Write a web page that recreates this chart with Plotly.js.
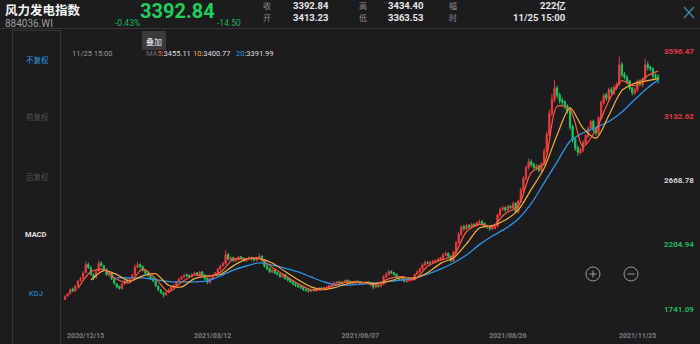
<!DOCTYPE html>
<html><head><meta charset="utf-8">
<script src="https://cdn.plot.ly/plotly-3.0.1.min.js"></script>
<style>html,body{margin:0;padding:0;background:#1c1c1e;}#chart{width:700px;height:344px;}</style>
</head><body><div id="chart"></div>
<script>
// ---------------- data ----------------
const xTickIdx = [0, 57, 114, 171, 229];
const xTickText = ['2020/12/15', '2021/03/12', '2021/06/07', '2021/08/26', '2021/11/25'];
const yTickVals = [1741.09, 2204.94, 2668.78, 3132.62, 3596.47];
const yTickText = ['1741.09', '2204.94', '2668.78', '3132.62', '3596.47'];

const open = [1812,1835,1852,1885,1872,1908,1945,1962,2005,2062,
2038,1988,1968,2015,2072,2052,2028,1985,2002,1958,
1922,1905,1888,1922,1948,1938,1962,1988,2042,2062,
2048,2018,2002,1983,1962,1942,1905,1878,1858,1842,
1862,1882,1898,1912,1937,1957,1972,1988,1982,1973,
1992,2002,1988,2008,1987,1962,1932,1958,1987,2002,
2028,2052,2068,2135,2095,2112,2088,2098,2118,2108,
2088,2098,2112,2102,2092,2108,2122,2092,2052,2034,
2008,2022,2003,1992,1972,1988,1963,1953,1938,1923,
1912,1903,1897,1883,1878,1868,1883,1873,1883,1893,
1878,1893,1898,1908,1913,1928,1938,1923,1933,1948,
1943,1938,1928,1942,1938,1922,1928,1938,1928,1918,
1898,1913,1903,1918,1972,1988,2013,2003,1992,1972,
1952,1962,1938,1943,1948,1953,1992,2008,2028,2058,
2078,2068,2078,2083,2088,2098,2108,2128,2143,2122,
2088,2148,2218,2278,2335,2318,2345,2328,2352,2342,
2358,2373,2358,2343,2333,2318,2322,2338,2418,2458,
2472,2452,2483,2468,2505,2438,2518,2598,2678,2758,
2805,2785,2755,2775,2738,2788,2878,2995,3148,3245,
3335,3285,3245,3235,3205,3175,3055,2965,2905,2865,
2885,2935,2985,3045,3095,3035,3005,3115,3225,3285,
3255,3325,3295,3335,3358,3505,3435,3412,3385,3335,
3295,3318,3385,3355,3398,3505,3485,3475,3425,3413.23];

const high = [1840,1858,1890,1895,1912,1950,1972,2012,2085,2075,
2050,2000,2020,2090,2085,2060,2035,2015,2010,1965,
1930,1910,1928,1952,1955,1968,1995,2060,2080,2070,
2055,2025,2010,1990,1970,1950,1912,1885,1865,1868,
1890,1910,1920,1945,1965,1982,1995,1998,1990,1998,
2010,2008,2015,2015,1992,1968,1968,1992,2010,2040,
2060,2080,2165,2145,2120,2118,2110,2125,2125,2112,
2108,2120,2118,2108,2118,2140,2128,2098,2058,2040,
2028,2025,2008,1998,1992,1992,1968,1958,1942,1928,
1918,1908,1900,1888,1882,1888,1888,1892,1898,1898,
1902,1908,1918,1922,1938,1942,1942,1942,1952,1955,
1948,1942,1948,1948,1942,1936,1942,1942,1932,1922,
1918,1918,1928,1985,2005,2025,2020,2008,1998,1975,
1968,1965,1952,1956,1962,1998,2018,2040,2070,2090,
2085,2088,2095,2098,2110,2118,2145,2158,2148,2128,
2160,2232,2295,2345,2348,2355,2352,2362,2360,2372,
2385,2380,2362,2348,2340,2335,2348,2430,2475,2485,
2480,2492,2490,2515,2510,2530,2615,2700,2775,2825,
2820,2795,2785,2780,2800,2900,3020,3180,3290,3390,
3350,3300,3265,3245,3215,3195,3070,2980,2920,2905,
2955,3000,3055,3105,3105,3045,3130,3245,3295,3300,
3335,3340,3355,3375,3560,3520,3450,3425,3390,3340,
3335,3395,3395,3410,3545,3525,3495,3480,3440,3434.40];

const low = [1805,1828,1845,1862,1865,1900,1938,1955,1998,2030,
1980,1950,1960,2008,2045,2020,1978,1975,1950,1915,
1890,1880,1882,1915,1930,1930,1955,1980,2035,2035,
2010,1990,1975,1950,1935,1900,1870,1850,1825,1835,
1855,1875,1892,1905,1930,1950,1965,1970,1965,1965,
1985,1980,1982,1978,1950,1920,1925,1950,1980,1995,
2020,2045,2060,2090,2088,2080,2082,2090,2098,2082,
2080,2092,2092,2085,2085,2100,2082,2040,2020,2000,
2000,1992,1982,1965,1965,1952,1940,1928,1912,1900,
1892,1885,1872,1865,1860,1862,1868,1868,1878,1872,
1872,1888,1895,1902,1908,1922,1918,1918,1928,1932,
1928,1922,1922,1928,1918,1915,1922,1918,1908,1885,
1890,1895,1898,1912,1965,1982,1992,1980,1962,1948,
1945,1932,1932,1938,1942,1948,1985,2002,2022,2052,
2060,2060,2072,2078,2082,2090,2100,2122,2112,2078,
2080,2140,2210,2270,2305,2310,2320,2320,2335,2335,
2350,2345,2330,2320,2305,2310,2315,2330,2405,2450,
2440,2445,2460,2460,2430,2430,2505,2585,2665,2745,
2765,2745,2740,2725,2725,2775,2865,2985,3130,3230,
3260,3220,3210,3180,3150,3030,2940,2880,2845,2855,
2870,2920,2975,3030,3015,2990,2995,3105,3210,3240,
3240,3285,3285,3320,3345,3410,3395,3360,3315,3280,
3285,3305,3345,3340,3385,3460,3455,3400,3395,3363.53];

const close = [1830,1850,1880,1870,1905,1940,1960,2000,2060,2040,
1990,1965,2010,2070,2055,2030,1990,2000,1960,1925,
1900,1890,1920,1945,1940,1960,1985,2040,2060,2045,
2020,2000,1985,1960,1945,1910,1880,1860,1845,1860,
1880,1900,1910,1935,1955,1970,1985,1980,1975,1990,
2000,1990,2005,1985,1960,1935,1960,1985,2000,2030,
2050,2070,2130,2100,2110,2090,2100,2115,2105,2090,
2100,2110,2100,2095,2110,2120,2090,2050,2030,2010,
2020,2000,1990,1975,1985,1960,1950,1935,1920,1910,
1900,1895,1880,1875,1870,1880,1875,1885,1890,1880,
1895,1900,1910,1915,1930,1935,1925,1935,1945,1940,
1935,1930,1940,1935,1925,1930,1935,1925,1915,1900,
1910,1905,1920,1975,1990,2010,2000,1990,1970,1955,
1960,1940,1945,1950,1955,1990,2010,2030,2060,2075,
2070,2080,2085,2090,2100,2110,2130,2140,2120,2090,
2150,2220,2280,2330,2320,2340,2330,2350,2345,2360,
2370,2355,2340,2330,2320,2325,2340,2420,2460,2470,
2455,2480,2470,2500,2440,2520,2600,2680,2760,2800,
2780,2760,2770,2740,2790,2880,3000,3150,3250,3330,
3280,3240,3230,3200,3170,3050,2960,2900,2870,2890,
2940,2990,3040,3090,3030,3010,3120,3230,3280,3260,
3320,3300,3340,3360,3500,3430,3410,3380,3330,3300,
3320,3380,3360,3400,3500,3480,3470,3420,3410,3392.84];

// moving-average lines, every 5 sessions
const maIdx = [0,5,10,15,20,25,30,35,40,45,50,55,60,65,70,75,80,85,90,95,100,105,110,115,120,125,130,135,140,145,150,155,160,165,170,175,180,185,190,195,200,205,210,215,220,225,229];
const ma5 = [null,1889,2010,2026,1955,1931,2030,1960,1865,1934,1986,1975,2005,2100,2102,2107,2040,1982,1923,1880,1885,1918,1936,1932,1917,1960,1975,1956,2049,2093,2126,2298,2351,2334,2429,2482,2724,2788,3202,3178,2912,3032,3242,3386,3348,3424,3455.11];
const ma10 = [null,null,1950,2018,1990,1943,1980,1995,1912,1900,1960,1980,1990,2052,2101,2104,2073,2011,1952,1901,1882,1900,1928,1934,1925,1940,1968,1965,2003,2070,2110,2210,2325,2342,2382,2455,2603,2756,2995,3190,3045,2972,3137,3314,3367,3386,3400.77];
const ma20 = [null,null,null,null,1968,1965,1965,1952,1938,1936,1936,1943,1979,2022,2051,2073,2058,2036,2008,1972,1936,1914,1914,1921,1930,1940,1950,1962,1993,2029,2073,2130,2205,2267,2320,2390,2500,2650,2800,2950,3010,3050,3092,3160,3250,3335,3391.99];

// ---------------- styling / layout ----------------
const BG = '#1c1c1e';
const UP = '#ec3a3f', DN = '#1fc45e';
const C5 = '#ff5c3a', C10 = '#f2b23a', C20 = '#2d93e6';
const L = 62, R = 662, T = 30, B = 328;
const PX = x => (x - L) / (R - L);
const PY = y => (B - y) / (B - T);
const VPP = 7.205, REFV = 3596.47, REFY = 51.5;
const yRange = [REFV - (B - REFY) * VPP, REFV + (REFY - T) * VPP];
const xRange = [(L - 65) / 2.59, (R - 65) / 2.59];

const idx = close.map((_, i) => i);
const NUM = 'Roboto, "Noto Sans CJK SC", sans-serif';
const CJK = '"Noto Sans CJK SC", sans-serif';

const traces = [
  {type: 'candlestick', x: idx, open: open, high: high, low: low, close: close,
   increasing: {line: {color: UP, width: 1}, fillcolor: UP},
   decreasing: {line: {color: DN, width: 1}, fillcolor: DN},
   whiskerwidth: 0, hoverinfo: 'skip', showlegend: false},
  {type: 'scatter', mode: 'lines', x: maIdx, y: ma20, line: {color: C20, width: 1.3, shape: 'spline', smoothing: 0.8}, hoverinfo: 'skip', showlegend: false},
  {type: 'scatter', mode: 'lines', x: maIdx, y: ma10, line: {color: C10, width: 1.2, shape: 'spline', smoothing: 0.8}, hoverinfo: 'skip', showlegend: false},
  {type: 'scatter', mode: 'lines', x: maIdx, y: ma5, line: {color: C5, width: 1.2, shape: 'spline', smoothing: 0.8}, hoverinfo: 'skip', showlegend: false}
];

const yColors = ['#20b65a', '#20b65a', '#d4d4d4', '#e5383e', '#e5383e'];
const yTickHtml = yTickText.map((t, i) => '<span style="color:' + yColors[i] + '">' + t + '</span>');

function A(text, x, y, o) {
  o = o || {};
  return {text: text, x: PX(x), y: PY(y), xref: 'paper', yref: 'paper', showarrow: false,
    xanchor: o.xa || 'left', yanchor: 'middle', borderpad: 0,
    font: {size: o.size || 9, color: o.color || '#e6e6e6', family: o.family || NUM, weight: o.weight || 'normal'}};
}

const annotations = [
  A('风力发电指数', 4, 9, {size: 12.5, family: CJK, weight: 'bold', color: '#f2f2f2'}),
  A('884036.WI', 4, 23, {size: 10, color: '#9c9c9c'}),
  A('3392.84', 139, 11, {size: 20, weight: 'bold', color: '#1fd05c'}),
  A('-0.43%', 114, 23, {size: 8.5, color: '#1fb552'}),
  A('-14.50', 216, 23, {size: 8.5, color: '#1fb552'}),
  A('收', 267, 6, {xa: 'center', size: 8, family: CJK, color: '#8c8c8c'}),
  A('开', 267, 17, {xa: 'center', size: 8, family: CJK, color: '#8c8c8c'}),
  A('3392.84', 292, 6, {size: 9.5, weight: 'bold', color: '#e8e8e8'}),
  A('3413.23', 292, 17, {size: 9.5, weight: 'bold', color: '#e8e8e8'}),
  A('高', 363, 6, {xa: 'center', size: 8, family: CJK, color: '#8c8c8c'}),
  A('低', 363, 17, {xa: 'center', size: 8, family: CJK, color: '#8c8c8c'}),
  A('3434.40', 387, 6, {size: 9.5, weight: 'bold', color: '#e8e8e8'}),
  A('3363.53', 387, 17, {size: 9.5, weight: 'bold', color: '#e8e8e8'}),
  A('幅', 453, 6, {xa: 'center', size: 8, family: CJK, color: '#8c8c8c'}),
  A('时', 453, 17, {xa: 'center', size: 8, family: CJK, color: '#8c8c8c'}),
  A('222亿', 567, 6, {xa: 'right', size: 9.5, weight: 'bold', color: '#e8e8e8'}),
  A('11/25 15:00', 567, 17, {xa: 'right', size: 9.5, weight: 'bold', color: '#e8e8e8'}),
  // left panel
  A('不复权', 37, 60, {xa: 'center', size: 7.5, family: CJK, color: '#2a9be0'}),
  A('前复权', 37, 117, {xa: 'center', size: 7.5, family: CJK, color: '#4e4e50'}),
  A('后复权', 37, 176, {xa: 'center', size: 7.5, family: CJK, color: '#4e4e50'}),
  A('MACD', 36, 234, {xa: 'center', size: 7.5, color: '#e0e0e0', weight: 'bold'}),
  A('KDJ', 36, 293, {xa: 'center', size: 7.5, color: '#2a9be0'}),
  // legend row
  A('11/25 15:00', 71, 53, {size: 7.5, color: '#9a9a9a'}),
  A('<span style="color:#6a6a6a">MA</span><span style="color:' + C5 + '">5</span>:3455.11', 145, 53, {size: 7.5, color: '#dedede'}),
  A('<span style="color:' + C10 + '">10</span>:3400.77', 192, 53, {size: 7.5, color: '#dedede'}),
  A('<span style="color:' + C20 + '">20</span>:3391.99', 235, 53, {size: 7.5, color: '#dedede'}),
  A('叠加', 154, 41, {xa: 'center', size: 8, family: CJK, color: '#f0f0f0'}),
  // first / last date labels (clamped to the plot edges)
  {text: xTickText[0], x: xTickIdx[0], y: PY(336), xref: 'x', yref: 'paper', showarrow: false, xanchor: 'left', yanchor: 'middle',
   font: {size: 7, color: '#7d7d7d', family: NUM, weight: 'bold'}},
  {text: xTickText[4], x: xTickIdx[4], y: PY(336), xref: 'x', yref: 'paper', showarrow: false, xanchor: 'right', yanchor: 'middle',
   font: {size: 7, color: '#7d7d7d', family: NUM, weight: 'bold'}}
];

const LINE = '#343436';
function Ln(x0, y0, x1, y1, color, w) {
  return {type: 'line', xref: 'paper', yref: 'paper', x0: PX(x0), y0: PY(y0), x1: PX(x1), y1: PY(y1),
    line: {color: color || LINE, width: w || 1}, layer: 'above'};
}
const shapes = [
  Ln(0, 28.5, 700, 28.5),
  Ln(12.5, 30.5, 12.5, 344),
  Ln(60.5, 30.5, 60.5, 344),
  Ln(12.5, 30.5, 60.5, 30.5),
  // 叠加 button
  {type: 'rect', xref: 'paper', yref: 'paper', x0: PX(142), x1: PX(166), y0: PY(50), y1: PY(31),
   fillcolor: '#3a3a3d', line: {width: 0}, layer: 'above'},
  // close X
  Ln(684, 7, 694, 18, '#3e8ba2', 1.2),
  Ln(684, 18, 694, 7, '#3e8ba2', 1.2),
  // zoom buttons
  {type: 'circle', xref: 'paper', yref: 'paper', x0: PX(586), x1: PX(600), y0: PY(281), y1: PY(267),
   line: {color: '#9c9c9c', width: 1}, layer: 'above'},
  Ln(589.5, 274, 596.5, 274, '#9c9c9c', 1),
  Ln(593, 270.5, 593, 277.5, '#9c9c9c', 1),
  {type: 'circle', xref: 'paper', yref: 'paper', x0: PX(624), x1: PX(638), y0: PY(281), y1: PY(267),
   line: {color: '#9c9c9c', width: 1}, layer: 'above'},
  Ln(627.5, 274, 634.5, 274, '#9c9c9c', 1)
];

const layout = {
  width: 700, height: 344,
  margin: {l: L, r: 700 - R, t: T, b: 344 - B, pad: 0},
  paper_bgcolor: BG, plot_bgcolor: BG,
  showlegend: false, hovermode: false, dragmode: false,
  xaxis: {range: xRange, showgrid: false, zeroline: false, showline: false, ticks: '',
    rangeslider: {visible: false}, fixedrange: true,
    tickmode: 'array', tickvals: xTickIdx.slice(1, 4), ticktext: xTickText.slice(1, 4),
    tickfont: {size: 7, color: '#7d7d7d', family: NUM, weight: 'bold'}, ticklabelstandoff: 2},
  yaxis: {range: yRange, side: 'right', showgrid: false, zeroline: false, showline: false, ticks: '',
    fixedrange: true, tickmode: 'array', tickvals: yTickVals, ticktext: yTickHtml,
    tickfont: {size: 8, family: NUM, weight: 'bold', color: '#d4d4d4'}, ticklabelstandoff: 1},
  annotations: annotations,
  shapes: shapes
};

Plotly.newPlot('chart', traces, layout, {staticPlot: true, displayModeBar: false});
</script></body></html>
